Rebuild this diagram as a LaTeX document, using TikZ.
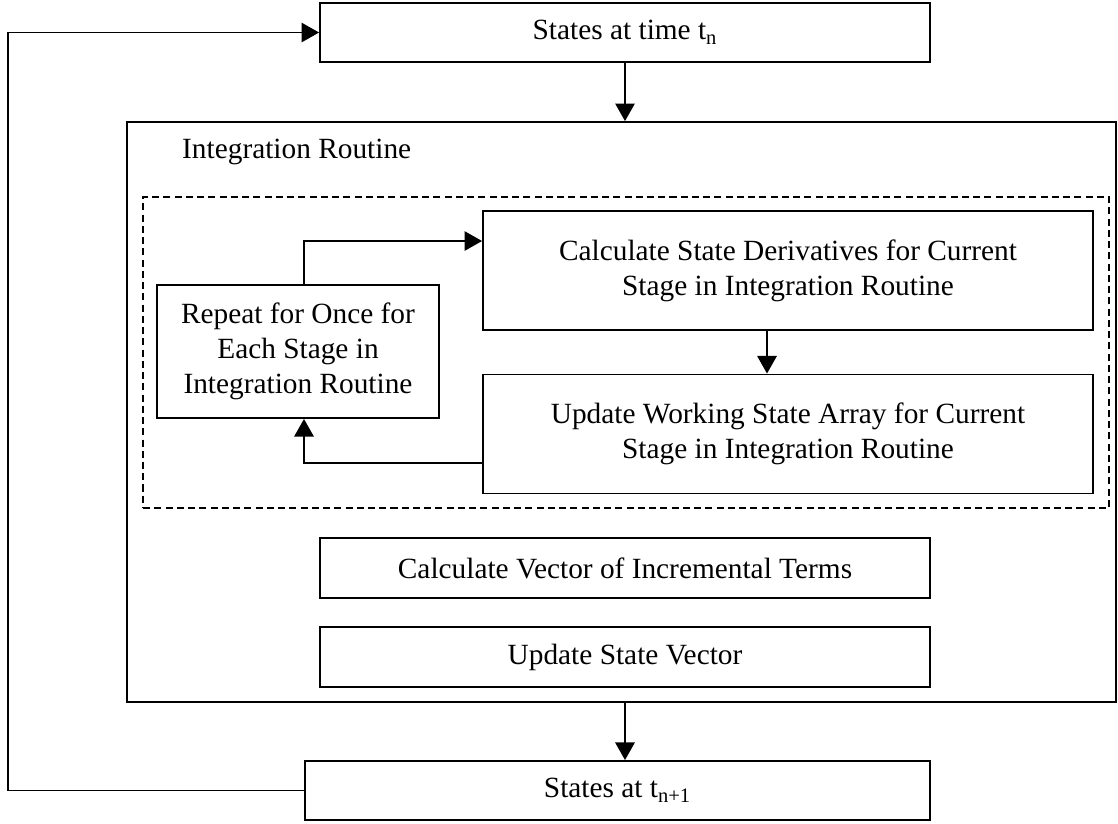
\documentclass[tikz,border=0pt]{standalone}
\usepackage{fontspec}
\setmainfont{Liberation Serif}
\usetikzlibrary{arrows.meta,positioning}

\begin{document}
\begin{tikzpicture}[x=0.02cm, y=-0.02cm,
    font=\fontsize{16.7pt}{19.9pt}\selectfont,
    block/.style={draw, line width=1.1pt, rectangle, inner sep=0pt, align=center},
    frame/.style={draw, line width=1.1pt, rectangle, inner sep=0pt},
    loopframe/.style={draw, line width=0.8pt, dash pattern=on 4pt off 2.4pt, rectangle, inner sep=0pt},
    flow/.style={line width=1.1pt, -{Triangle[width=11pt,length=10pt]}}]
\useasboundingbox (0,0) rectangle (1118,823);
% Outer containers
\node[frame, minimum width=19.78cm, minimum height=11.6cm] (routine) at (621.5,412) {};
\node[anchor=base west] (routinelabel) at (176,158) {Integration Routine};
\node[loopframe, minimum width=19.32cm, minimum height=6.22cm] (stageloop) at (626,352.5) {};
% Blocks
\node[block, minimum width=12.2cm, minimum height=1.18cm] (statesn) at (625,32.5) {States at time t\textsubscript{n}};
\node[block, minimum width=12.2cm, minimum height=2.38cm] (deriv) at (788,270.5) {Calculate State Derivatives for Current\\Stage in Integration Routine};
\node[block, minimum width=12.2cm, minimum height=2.38cm] (working) at (788,434) {Update Working State Array for Current\\Stage in Integration Routine};
\node[block, minimum width=5.64cm, minimum height=2.66cm] (repeat) at (298,351.5) {Repeat for Once for\\Each Stage in\\Integration Routine};
\node[block, minimum width=12.2cm, minimum height=1.2cm] (increments) at (625,568) {Calculate Vector of Incremental Terms};
\node[block, minimum width=12.2cm, minimum height=1.2cm] (updatestate) at (625,657) {Update State Vector};
\node[block, minimum width=12.5cm, minimum height=1.18cm] (statesnext) at (617.5,790.5) {States at t\textsubscript{n+1}};
\coordinate (feedback) at (8,0);
% Connectors
\draw[flow] (statesn.south) -- (statesn.south |- routine.north);
\draw[flow] (statesn.south |- routine.south) -- (statesn.south |- statesnext.north);
\draw[flow] (statesnext.west) -- (statesnext.west -| feedback) |- (statesn.west);
\draw[flow] ([xshift=0.12cm]repeat.north) |- ([yshift=0.59cm]deriv.west);
\draw[flow] ([xshift=-0.42cm]deriv.south) -- ([xshift=-0.42cm]working.north);
\draw[flow] ([yshift=-0.58cm]working.west) -| ([xshift=0.12cm]repeat.south);
\end{tikzpicture}
\end{document}
